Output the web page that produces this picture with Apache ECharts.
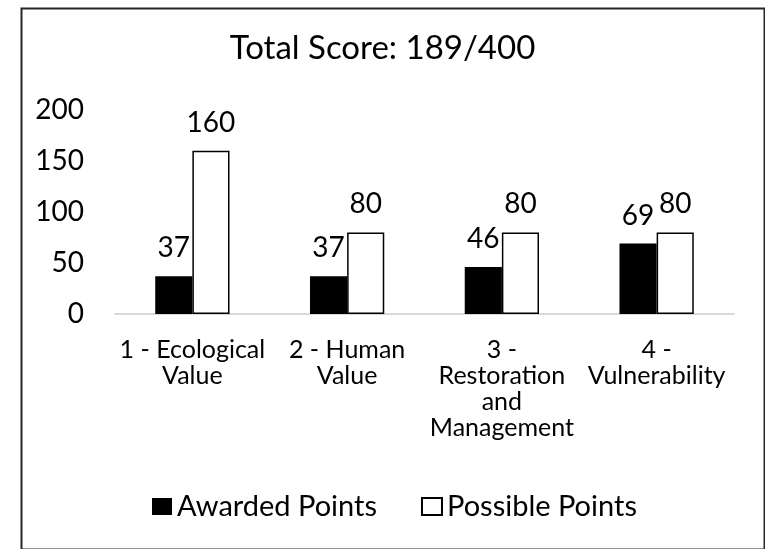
<!DOCTYPE html>
<html>
<head>
<meta charset="utf-8">
<script src="https://cdn.jsdelivr.net/npm/echarts@6/dist/echarts.min.js"></script>
<style>
html,body{margin:0;padding:0;background:#fff;}
#c{width:765px;height:549px;}
</style>
</head>
<body>
<div id="c"></div>
<script>
const titleText = 'Total Score: 189/400';
const categories = ['1 - Ecological\nValue', '2 - Human\nValue', '3 -\nRestoration\nand\nManagement', '4 -\nVulnerability'];
const awarded = [37, 37, 46, 69];
const possible = [160, 80, 80, 80];
const seriesNames = ['Awarded Points', 'Possible Points'];
const yTicks = [0, 50, 100, 150, 200];

const FONT = 'Lato';
const chart = echarts.init(document.getElementById('c'), null, {renderer: 'canvas'});
chart.setOption({
  animation: false,
  backgroundColor: '#fff',
  textStyle: {fontFamily: FONT, color: '#000'},
  title: {
    text: titleText, left: 'center', top: 27,
    textStyle: {fontFamily: FONT, fontSize: 33, fontWeight: 'normal', color: '#000'}
  },
  graphic: [{
    type: 'rect', left: 19, top: 6, shape: {x: 0, y: 0, width: 743, height: 541},
    style: {fill: 'none', stroke: '#262626', lineWidth: 2}, silent: true
  }],
  legend: {
    left: 147, top: 487, itemWidth: 20, itemHeight: 17, itemGap: 44,
    icon: 'rect',
    textStyle: {fontFamily: FONT, fontSize: 29, color: '#000'},
    data: seriesNames
  },
  grid: {left: 115, right: 31, top: 110, bottom: 235, containLabel: false},
  xAxis: {
    type: 'category', data: categories,
    axisLine: {lineStyle: {color: '#d9d9d9', width: 2}},
    axisTick: {show: false},
    axisLabel: {fontFamily: FONT, fontSize: 25, lineHeight: 26, color: '#000', margin: 23, interval: 0}
  },
  yAxis: {
    type: 'value', min: yTicks[0], max: yTicks[yTicks.length - 1], interval: yTicks[1] - yTicks[0],
    axisLine: {show: false}, axisTick: {show: false}, splitLine: {show: false},
    axisLabel: {fontFamily: FONT, fontSize: 28, color: '#000', margin: 31}
  },
  series: [
    {
      name: seriesNames[0], type: 'bar', data: awarded,
      barGap: '0%', barCategoryGap: '52%',
      itemStyle: {color: '#000'},
      label: {show: true, position: 'top', distance: 14, fontFamily: FONT, fontSize: 28, color: '#000'}
    },
    {
      name: seriesNames[1], type: 'bar', data: possible,
      barGap: '0%', barCategoryGap: '52%',
      itemStyle: {color: '#fff', borderColor: '#000', borderWidth: 1.5},
      label: {show: true, position: 'top', distance: 14, fontFamily: FONT, fontSize: 28, color: '#000'}
    }
  ]
});
</script>
</body>
</html>
